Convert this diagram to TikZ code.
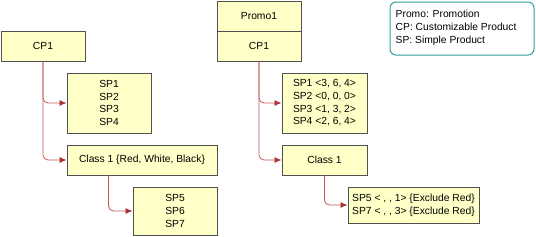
\documentclass[tikz,border=0pt]{standalone}
\usepackage{fontspec}
\setmainfont{Liberation Sans}
\usetikzlibrary{arrows.meta}
\definecolor{boxfill}{HTML}{FFFFC8}
\definecolor{boxline}{HTML}{505050}
\definecolor{linkred}{HTML}{C05858}
\definecolor{tipred}{HTML}{A83434}
\definecolor{legteal}{HTML}{30A0A0}

\begin{document}
\begin{tikzpicture}[
    x=1pt, y=-1pt,
    box/.style={draw=boxline, fill=boxfill, line width=1pt, inner sep=0pt, minimum width=84pt, align=center, font=\fontsize{10.3}{12.7}\selectfont},
    link/.style={draw=linkred, line width=0.8pt, rounded corners=5pt, -{Latex[length=7pt, width=6pt, color=tipred]}},
]
    \useasboundingbox (0,0) rectangle (536,236);

    % left tree
    \node[box, minimum height=30pt] (cp) at (43,46) {CP1};
    \node[box, minimum height=60pt] (sps) at (109,103) {SP1\\SP2\\SP3\\SP4};
    \node[box, minimum width=150pt, minimum height=30pt] (cls) at (142,160) {Class 1 \{Red, White, Black\}};
    \node[box, minimum height=48pt] (spc) at (175,211) {SP5\\SP6\\SP7};

    \draw[link] (cp.south) |- (sps.west);
    \draw[link] (cp.south) |- (cls.west);
    \draw[link] ([xshift=42pt]cls.south west) |- (spc.west);

    % right tree, with promotion
    \node[box, minimum height=30pt] (promo) at (259,16) {Promo1};
    \node[box, minimum height=30pt] (pcp) at (259,46) {CP1};
    \node[box, minimum width=85pt, minimum height=60pt, align=left] (psps) at (324.5,103) {SP1 <3, 6, 4>\\SP2 <0, 0, 0>\\SP3 <1, 3, 2>\\SP4 <2, 6, 4>};
    \node[box, minimum width=85pt, minimum height=30pt] (pcls) at (324.5,160) {Class 1};
    \node[box, minimum width=131pt, minimum height=36pt, align=left] (pspc) at (413.5,205) {SP5 < , , 1> \{Exclude Red\}\\SP7 < , , 3> \{Exclude Red\}};

    \draw[link] (pcp.south) |- (psps.west);
    \draw[link] (pcp.south) |- (pcls.west);
    \draw[link] (pcls.south) |- (pspc.west);

    % legend
    \node[draw=legteal, line width=1pt, rounded corners=6pt, minimum width=144pt, minimum height=53pt, inner sep=0pt] (leg) at (462,28.5) {};
    \node[anchor=north west, align=left, inner sep=0pt, font=\fontsize{10.3}{13}\selectfont] (legtxt) at ([xshift=6pt, yshift=-8pt]leg.north west) {Promo: Promotion\\CP: Customizable Product\\SP: Simple Product};
\end{tikzpicture}
\end{document}
